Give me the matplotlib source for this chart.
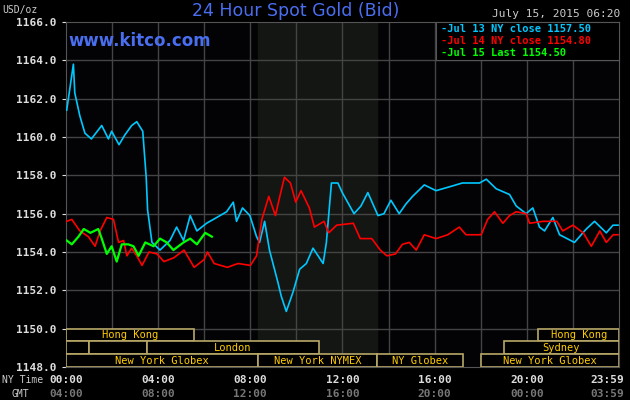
import matplotlib.pyplot as plt
from matplotlib.patches import Rectangle

# price data (hour of NY day, USD/oz)
jul13_h = [0.03, 0.32, 0.38, 0.6, 0.82, 1.1, 1.55, 1.84, 1.98, 2.3, 2.55, 2.85, 3.07, 3.33, 3.48, 3.54,
           3.73, 4.08, 4.51, 4.8, 5.1, 5.39, 5.68, 6.1, 6.54, 6.97, 7.26, 7.4, 7.66, 7.98, 8.27, 8.4,
           8.62, 8.83, 9.2, 9.34, 9.56, 9.85, 10.14, 10.43, 10.72, 11.16, 11.3, 11.52, 11.8, 11.99,
           12.5, 12.8, 13.1, 13.54, 13.8, 14.1, 14.46, 14.75, 15.04, 15.55, 16.06, 16.64, 17.2, 17.95,
           18.24, 18.67, 19.25, 19.54, 19.97, 20.26, 20.55, 20.77, 21.13, 21.42, 22.07, 22.58, 22.94,
           23.45, 23.74, 23.96]
jul13_p = [1161.4, 1163.8, 1162.3, 1161.1, 1160.2, 1159.9, 1160.6, 1159.9, 1160.3, 1159.6, 1160.1,
           1160.6, 1160.8, 1160.3, 1157.9, 1156.2, 1154.5, 1154.1, 1154.6, 1155.3, 1154.6, 1155.9,
           1155.1, 1155.5, 1155.8, 1156.1, 1156.6, 1155.6, 1156.3, 1155.9, 1154.8, 1154.5, 1155.6,
           1154.1, 1152.4, 1151.7, 1150.9, 1151.9, 1153.1, 1153.4, 1154.2, 1153.4, 1154.5, 1157.6,
           1157.6, 1157.1, 1156.0, 1156.4, 1157.1, 1155.9, 1156.0, 1156.7, 1156.0, 1156.5, 1156.9,
           1157.5, 1157.2, 1157.4, 1157.6, 1157.6, 1157.8, 1157.3, 1157.0, 1156.4, 1156.0, 1156.3,
           1155.3, 1155.1, 1155.8, 1154.9, 1154.5, 1155.2, 1155.6, 1155.0, 1155.4, 1155.4]

jul14_h = [0.03, 0.25, 0.6, 0.97, 1.26, 1.48, 1.77, 2.06, 2.28, 2.5, 2.64, 2.85, 3.07, 3.3, 3.6, 3.95,
           4.25, 4.68, 5.12, 5.56, 5.99, 6.14, 6.43, 7.0, 7.47, 8.0, 8.27, 8.5, 8.8, 9.09, 9.24, 9.48,
           9.74, 9.97, 10.2, 10.56, 10.78, 11.2, 11.4, 11.75, 12.47, 12.77, 13.27, 13.64, 13.93, 14.3,
           14.6, 14.9, 15.2, 15.55, 16.06, 16.57, 17.07, 17.36, 18.02, 18.3, 18.6, 18.96, 19.25, 19.54,
           19.97, 20.12, 20.7, 21.3, 21.56, 22.0, 22.45, 22.8, 23.17, 23.45, 23.75, 23.96]
jul14_p = [1155.6, 1155.7, 1155.1, 1154.8, 1154.3, 1155.1, 1155.8, 1155.7, 1154.5, 1154.6, 1153.8,
           1154.2, 1153.8, 1153.3, 1154.0, 1153.9, 1153.5, 1153.7, 1154.1, 1153.2, 1153.6, 1154.0,
           1153.4, 1153.2, 1153.4, 1153.3, 1153.8, 1155.7, 1156.9, 1155.9, 1156.7, 1157.9, 1157.6,
           1156.6, 1157.2, 1156.3, 1155.3, 1155.6, 1155.0, 1155.4, 1155.5, 1154.7, 1154.7, 1154.1,
           1153.8, 1153.9, 1154.4, 1154.5, 1154.1, 1154.9, 1154.7, 1154.9, 1155.3, 1154.9, 1154.9,
           1155.7, 1156.1, 1155.5, 1155.9, 1156.1, 1156.0, 1155.5, 1155.6, 1155.6, 1155.1, 1155.4,
           1155.0, 1154.3, 1155.1, 1154.5, 1154.9, 1154.9]

jul15_h = [0.03, 0.25, 0.54, 0.77, 1.06, 1.4, 1.55, 1.77, 1.98, 2.2, 2.42, 2.7, 2.93, 3.15, 3.44, 3.8,
           4.08, 4.37, 4.66, 5.1, 5.39, 5.68, 6.04, 6.33]
jul15_p = [1154.6, 1154.4, 1154.8, 1155.2, 1155.0, 1155.2, 1154.7, 1153.9, 1154.3, 1153.5, 1154.4,
           1154.4, 1154.3, 1153.8, 1154.5, 1154.3, 1154.7, 1154.5, 1154.1, 1154.5, 1154.7, 1154.4,
           1155.0, 1154.8]

# trading sessions: (row, start hour, end hour, label)
sessions = [(0, 0, 5.57, 'Hong Kong'), (0, 20.5, 24, 'Hong Kong'),
            (1, 0, 1.0, ''), (1, 1.0, 3.5, ''), (1, 3.5, 11.0, 'London'), (1, 19.0, 24, 'Sydney'),
            (2, 0, 8.33, 'New York Globex'), (2, 8.33, 13.5, 'New York NYMEX'),
            (2, 13.5, 17.25, 'NY Globex'), (2, 18.0, 24, 'New York Globex')]

hour_ticks = [0, 4, 8, 12, 16, 20, 23.98]
ny_labels = ['00:00', '04:00', '08:00', '12:00', '16:00', '20:00', '23:59']
gmt_labels = ['04:00', '08:00', '12:00', '16:00', '20:00', '00:00', '03:59']

mono = 'DejaVu Sans Mono'
fig = plt.figure(figsize=(6.3, 4.0), dpi=100, facecolor='black')
ax = fig.add_axes([0.1048, 0.0825, 0.8777, 0.8625], facecolor='#030305')
ax.set_xlim(0, 24)
ax.set_ylim(1148, 1166)

ax.axvspan(8.33, 13.5, color='#131613', zorder=0)
for h in range(2, 24, 2):
    ax.axvline(h, color='#444444', lw=1, zorder=1)
for p in range(1150, 1166, 2):
    ax.axhline(p, color='#444444', lw=1, zorder=1)
for s in ax.spines.values():
    s.set_color('#555555')

ax.plot(jul13_h, jul13_p, color='#00c8ff', lw=1.2, zorder=3)
ax.plot(jul14_h, jul14_p, color='#ff0000', lw=1.2, zorder=3)
ax.plot(jul15_h, jul15_p, color='#00ff00', lw=1.6, zorder=4)

# session boxes at the bottom
rh = 2 / 3
for row, x0, x1, lab in sessions:
    y0 = 1150 - (row + 1) * rh
    ax.add_patch(Rectangle((x0, y0), x1 - x0, rh, fill=True, facecolor='black',
                           edgecolor='#b8a868', lw=1.2, zorder=5))
    if lab:
        ax.text((x0 + x1) / 2, y0 + rh / 2, lab, color='#ffcc00', fontsize=7.5,
                family=mono, ha='center', va='center', zorder=6)

ax.set_yticks(range(1148, 1167, 2))
ax.set_yticklabels([f'{v}.0' for v in range(1148, 1167, 2)])
ax.tick_params(axis='y', colors='#dddddd', labelsize=8, length=3)
for t in ax.get_yticklabels():
    t.set_family(mono)
    t.set_fontweight('bold')
ax.set_xticks([])

for i, (h, a, b) in enumerate(zip(hour_ticks, ny_labels, gmt_labels)):
    xf = 0.1048 + 0.8777 * h / 24
    ha = 'center'
    if i == len(hour_ticks) - 1:
        xf, ha = 0.99, 'right'
    fig.text(xf, 0.05, a, color='#dddddd', fontsize=8, family=mono, weight='bold', ha=ha, va='center')
    fig.text(xf, 0.015, b, color='#777777', fontsize=8, family=mono, weight='bold', ha=ha, va='center')
fig.text(0.003, 0.05, 'NY Time', color='#cccccc', fontsize=7, family=mono, va='center')
fig.text(0.018, 0.015, 'GMT', color='#cccccc', fontsize=7, family=mono, va='center')

fig.text(0.003, 0.975, 'USD/oz', color='#cccccc', fontsize=7, family=mono, va='center')
fig.text(0.47, 0.972, '24 Hour Spot Gold (Bid)', color='#4a6ef0', fontsize=12.5, ha='center', va='center')
fig.text(0.985, 0.965, 'July 15, 2015 06:20', color='#cccccc', fontsize=8, family=mono, ha='right', va='center')
ax.text(0.005, 0.93, 'www.kitco.com', color='#4a6ef0', fontsize=12, weight='bold', transform=ax.transAxes)

# legend box
leg = fig.add_axes([0.692, 0.85, 0.291, 0.095], facecolor='black')
leg.set_xticks([]); leg.set_yticks([])
for s in leg.spines.values():
    s.set_color('#555555')
for i, (txt, c) in enumerate([('-Jul 13 NY close 1157.50', '#00c8ff'),
                              ('-Jul 14 NY close 1154.80', '#ff0000'),
                              ('-Jul 15 Last 1154.50', '#00ff00')]):
    leg.text(0.03, 0.82 - i * 0.32, txt, color=c, fontsize=7.5, family=mono, weight='bold',
             va='center', transform=leg.transAxes)

fig.savefig('out.png', dpi=100, facecolor='black')
